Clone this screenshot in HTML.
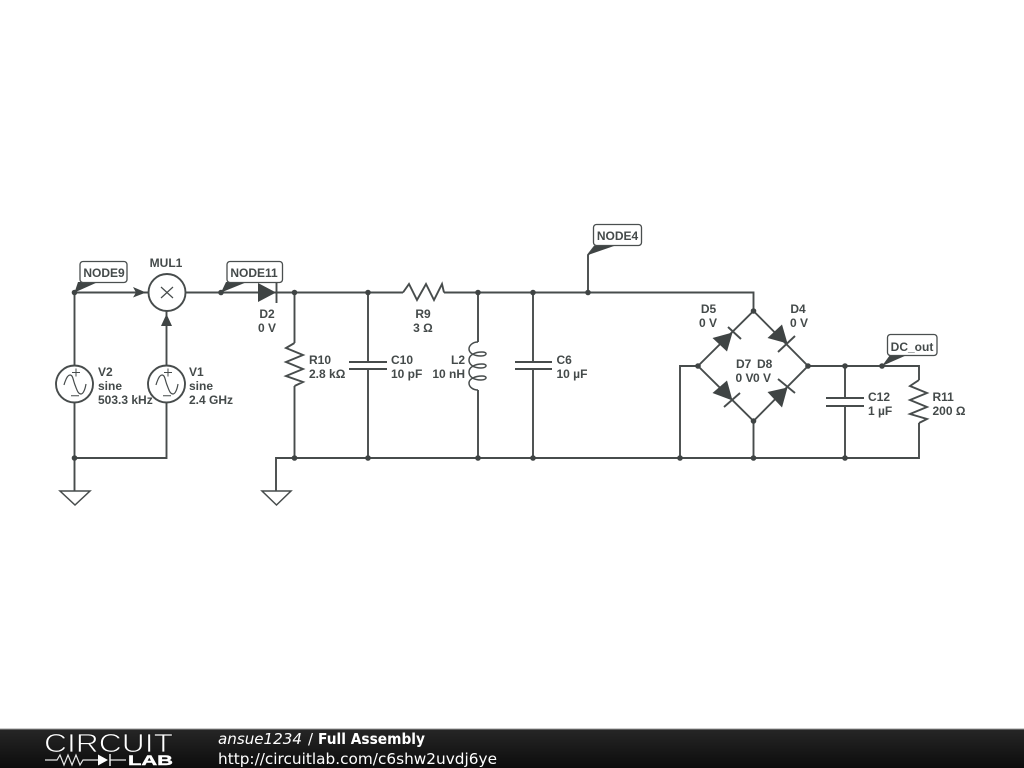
<!DOCTYPE html>
<html><head><meta charset="utf-8"><style>
html,body{margin:0;padding:0;background:#fff;width:1024px;height:768px;overflow:hidden}
svg{display:block}
.w{fill:none;stroke:#474c4c;stroke-width:1.9;stroke-linejoin:miter}
.d{fill:#3f4444;stroke:none}
.t{font-family:"Liberation Sans",sans-serif;font-size:12px;font-weight:bold;fill:#444a4a}
.m{text-anchor:middle}
.b{fill:#fff;stroke:#4a4f4f;stroke-width:1.3}
.f{font-family:"DejaVu Sans",sans-serif;font-size:15px;fill:#fff}
</style></head><body>
<svg width="1024" height="768" viewBox="0 0 1024 768" xmlns="http://www.w3.org/2000/svg">
<defs>
<linearGradient id="g" x1="0" y1="0" x2="0" y2="1"><stop offset="0" stop-color="#262626"/><stop offset="1" stop-color="#0c0c0c"/></linearGradient>
</defs>
<!-- wires -->
<path class="w" d="M74.500 292.500H148M186 292.500H403M444 292.500H753.500V311"/>
<path class="w" d="M74.500 292.500V365.500M74.500 403V491M74.500 458H166.500V403M166.500 365.500V311"/>
<path class="w" d="M294.500 292.500V343M294.500 386V458M276 491V458H919V423M919 380V366H808"/>
<path class="w" d="M368 292.500V362M368 369V458M478 292.500V342M478 390V458M533 292.500V362M533 369V458M588 292.500V255L595 246"/>
<path class="w" d="M845 366V398M845 406V458M753.500 421V458M698 366H680V458"/>
<path class="w" d="M753.500 311L808 366L753.500 421L698 366Z"/>
<!-- resistors -->
<path class="w" d="M294.500 343L286 348L303 355L286 362L303 369L286 376L303 382L294.500 386"/>
<path class="w" d="M919 380L910 386L927 393L910 400L927 407L910 414L927 419L919 423"/>
<path class="w" d="M403 292.500L409 284L417 300L426 284L434 300L442 284L444 292.500"/>
<!-- caps -->
<path class="w" d="M349 362H387M349 369H387M515 362H552M515 369H552M826 398H864M826 406H864"/>
<!-- inductor -->
<path class="w" style="stroke-width:1.500" d="M478 342C472 342 469 346 469 349C469 353 474 356 481 356C487 356 488 352 482 352C475 352 469 355 469 360C469 365 474 368 481 368C487 368 488 364 482 364C475 364 469 367 469 372C469 377 474 380 481 380C487 380 488 376 482 376C475 376 469 379 469 383C469 387 473 390 478 390"/>
<!-- sources and multiplier -->
<circle class="w" cx="74.500" cy="384" r="18.500"/>
<circle class="w" cx="166.500" cy="384" r="18.500"/>
<circle class="w" cx="167" cy="292.500" r="18.500"/>
<path class="w" style="stroke-width:1.200" d="M161 287L173 298M173 287L161 298"/>
<path class="w" style="stroke-width:1.200" d="M64 385C66 378 68 375 70 375C73 375 73 380 75 385C77 390 78 394 81 394C83 394 85 390 86 384M156 385C158 378 160 375 162 375C165 375 165 380 167 385C169 390 170 394 173 394C175 394 177 390 178 384"/>
<path class="w" style="stroke-width:1" d="M72 372.500H80M76 368.500V376.500M71 395.700H79M164 372.500H172M168 368.500V376.500M163 395.700H171"/>
<!-- arrowheads -->
<path class="d" d="M133 287L146 292.500L133 297.500L136 292.500Z"/>
<path class="d" d="M166.500 314L172 326H161Z"/>
<!-- diodes -->
<path class="d" d="M258 283L276 292.500L258 302Z"/>
<path class="w" d="M276.500 282V303"/>
<path class="d" d="M767.500 338L782 324.500L787.500 343.500Z"/>
<path class="w" d="M778 352L795 336"/>
<path class="d" d="M712.500 338L727 351.500L732.500 332.500Z"/>
<path class="w" d="M728 327L741 339"/>
<path class="d" d="M712.500 393L727 380.500L732.500 400.500Z"/>
<path class="w" d="M724 407L740 393"/>
<path class="d" d="M767.500 392L782 407.500L787.500 387.500Z"/>
<path class="w" d="M778 379L795 393"/>
<!-- grounds -->
<path class="w" style="stroke-width:1.500" d="M60 491H90L75 505ZM262 491H291L276.500 505Z"/>
<!-- junction dots -->
<g class="d">
<circle cx="74.500" cy="292.500" r="2.800"/><circle cx="221" cy="292.500" r="2.800"/><circle cx="368" cy="292.500" r="2.800"/><circle cx="478" cy="292.500" r="2.800"/><circle cx="533" cy="292.500" r="2.800"/><circle cx="588" cy="292.500" r="2.800"/>
<circle cx="74.500" cy="458" r="2.800"/><circle cx="294.500" cy="458" r="2.800"/><circle cx="368" cy="458" r="2.800"/><circle cx="478" cy="458" r="2.800"/><circle cx="533" cy="458" r="2.800"/><circle cx="680" cy="458" r="2.800"/><circle cx="753.500" cy="458" r="2.800"/><circle cx="845" cy="458" r="2.800"/>
<circle cx="753.500" cy="311" r="2.800"/><circle cx="698" cy="366" r="2.800"/><circle cx="808" cy="366" r="2.800"/><circle cx="753.500" cy="421" r="2.800"/><circle cx="845" cy="366" r="2.800"/><circle cx="882" cy="366" r="2.800"/><circle cx="294.500" cy="292.500" r="2.800"/>
</g>
<!-- node tags -->
<path class="d" d="M74.500 292.500L78 282H98ZM221 292.500L226 282H247ZM588 255L595 246H614ZM882 366L890 355H907Z"/>
<rect class="b" x="80" y="261.500" width="47" height="21" rx="3"/>
<rect class="b" x="227" y="261.500" width="55.500" height="21" rx="3"/>
<rect class="b" x="593.500" y="224.500" width="48" height="21" rx="3"/>
<rect class="b" x="887.500" y="334.500" width="49.500" height="21" rx="3"/>
<!-- labels -->
<g class="t">
<text class="m" x="104" y="277">NODE9</text>
<text class="m" x="166" y="267">MUL1</text>
<text class="m" x="254" y="277">NODE11</text>
<text class="m" x="617.500" y="240">NODE4</text>
<text class="m" x="912" y="351">DC_out</text>
<text class="m" x="267" y="318">D2</text><text class="m" x="267" y="332">0 V</text>
<text x="98" y="376">V2</text><text x="98" y="390">sine</text><text x="98" y="404">503.3 kHz</text>
<text x="189" y="376">V1</text><text x="189" y="390">sine</text><text x="189" y="404">2.4 GHz</text>
<text x="309" y="364">R10</text><text x="309" y="378">2.8 kΩ</text>
<text x="391" y="364">C10</text><text x="391" y="378">10 pF</text>
<text class="m" x="423" y="318">R9</text><text class="m" x="423" y="332">3 Ω</text>
<text x="465" y="364" text-anchor="end">L2</text><text x="465" y="378" text-anchor="end">10 nH</text>
<text x="556.500" y="364">C6</text><text x="556.500" y="378">10 µF</text>
<text class="m" x="708.500" y="313">D5</text><text class="m" x="708" y="327">0 V</text>
<text class="m" x="798" y="313">D4</text><text class="m" x="799" y="327">0 V</text>
<text x="736" y="368">D7</text><text x="757" y="368">D8</text>
<text x="735.500" y="382">0 V</text><text x="753" y="382">0 V</text>
<text x="868" y="401">C12</text><text x="868" y="415">1 µF</text>
<text x="932.500" y="401">R11</text><text x="932.500" y="415">200 Ω</text>
</g>
<!-- footer -->
<rect x="0" y="729" width="1024" height="39" fill="url(#g)"/>
<rect x="0" y="728.500" width="1024" height="1" fill="#9a9a9a"/>
<text x="44" y="752" font-family="Liberation Sans,sans-serif" font-size="26" fill="#fff" stroke="#1a1a1a" stroke-width="0.8" textLength="129" lengthAdjust="spacingAndGlyphs">CIRCUIT</text>
<path fill="none" stroke="#e8e8e8" stroke-width="1.200" d="M45 760H57L60 755L64 765L68 755L72 765L76 755L80 765L83 760H98M110 760H126"/>
<path fill="#fff" d="M98 754.500L108 760L98 765.500Z"/><path stroke="#fff" stroke-width="1.400" d="M110 754V766"/>
<text x="128" y="765" font-family="Liberation Sans,sans-serif" font-size="14" font-weight="bold" fill="#fff" stroke="#fff" stroke-width="0.4" textLength="45" lengthAdjust="spacingAndGlyphs">LAB</text>
<text class="f" x="218" y="744" font-style="italic" textLength="84" lengthAdjust="spacingAndGlyphs">ansue1234</text>
<text class="f" x="308" y="744">/</text>
<text class="f" x="318" y="744" font-weight="bold" textLength="107" lengthAdjust="spacingAndGlyphs">Full Assembly</text>
<text class="f" x="218" y="764" textLength="279" lengthAdjust="spacingAndGlyphs">http://circuitlab.com/c6shw2uvdj6ye</text>
</svg>
</body></html>
